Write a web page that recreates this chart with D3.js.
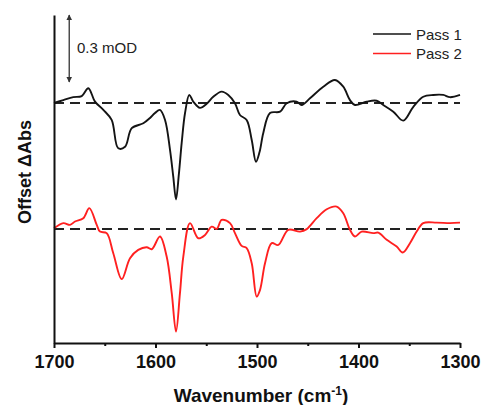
<!DOCTYPE html>
<html>
<head>
<meta charset="utf-8">
<script src="https://cdn.jsdelivr.net/npm/d3@7/dist/d3.min.js"></script>
<style>
  html, body { margin: 0; padding: 0; background: #fff; }
  svg { display: block; font-family: "Liberation Sans", Arial, sans-serif; }
</style>
</head>
<body>
<svg id="chart" width="482" height="405"></svg>
<script>
// ---- Data (wavenumber in cm^-1, ΔAbs in mOD relative to each trace's baseline) ----
const pass1Wavenumber = [1700, 1690.8, 1681.0, 1672.7, 1666.2, 1659.6, 1651.4, 1643.2, 1636.7, 1630.0,
  1623.4, 1612.0, 1605.4, 1600.5, 1595.6, 1590.6, 1585.7, 1582.5, 1579.8, 1577.0, 1574.2, 1570.9, 1566.7,
  1562.8, 1556.2, 1549.6, 1543.1, 1534.8, 1528.3, 1521.7, 1516.8, 1510.2, 1505.2, 1501.0, 1497.5, 1493.8,
  1487.2, 1477.3, 1470.7, 1460.9, 1456.0, 1447.8, 1434.7, 1423.2, 1415.0, 1408.4, 1403.5, 1392.0, 1382.1,
  1375.6, 1365.7, 1355.9, 1346.0, 1336.2, 1326.3, 1316.5, 1309.9, 1300.0];
const pass1Values = [0.000, 0.013, 0.026, 0.031, 0.066, 0.006, -0.031, -0.076, -0.203, -0.196,
  -0.113, -0.091, -0.067, -0.045, -0.031, -0.076, -0.210, -0.330, -0.432, -0.320, -0.179, -0.045, 0.036,
  0.006, -0.022, -0.004, 0.028, 0.051, 0.036, -0.001, -0.054, -0.076, -0.166, -0.263, -0.220, -0.134,
  -0.045, -0.039, -0.001, 0.006, -0.009, 0.021, 0.073, 0.103, 0.073, 0.013, -0.009, 0.006, 0.010,
  -0.009, -0.039, -0.079, -0.017, 0.028, 0.036, 0.036, 0.026, 0.036];

const pass2Wavenumber = [1700, 1690.8, 1684.2, 1679.3, 1671.1, 1665.2, 1657.9, 1654.7, 1648.1, 1641.6,
  1633.3, 1625.1, 1617.0, 1608.7, 1603.7, 1595.6, 1589.0, 1584.0, 1579.8, 1575.9, 1572.6, 1566.0, 1557.8,
  1551.2, 1544.6, 1539.7, 1534.8, 1526.6, 1521.7, 1515.1, 1510.2, 1505.2, 1500.3, 1497.0, 1492.1, 1485.5,
  1479.0, 1469.2, 1457.6, 1451.0, 1441.2, 1431.3, 1421.5, 1415.0, 1408.4, 1403.5, 1396.9, 1385.5, 1380.5,
  1372.2, 1362.4, 1356.5, 1349.3, 1342.7, 1336.2, 1323.0, 1309.9, 1300.0];
const pass2Values = [0.003, 0.026, 0.018, 0.033, 0.048, 0.093, 0.018, -0.012, -0.019, -0.109,
  -0.225, -0.131, -0.094, -0.082, -0.091, -0.034, -0.124, -0.288, -0.460, -0.288, -0.124, 0.026, -0.042,
  -0.027, 0.010, 0.000, 0.040, 0.026, -0.019, -0.076, -0.086, -0.154, -0.303, -0.273, -0.154, -0.064,
  -0.072, -0.004, -0.012, -0.001, 0.048, 0.088, 0.100, 0.070, -0.004, -0.034, -0.012, -0.019, -0.017,
  -0.049, -0.079, -0.106, -0.064, -0.012, 0.026, 0.028, 0.026, 0.028];

const seriesNames = ["Pass 1", "Pass 2"];
const seriesOffsets = [0, -0.564];           // mOD offsets of each trace
const seriesColors = ["#141414", "#ff2020"];
const xDomain = [1700, 1300];
const yDomain = [-1.075, 0.394];             // mOD
const majorTicks = [1700, 1600, 1500, 1400, 1300];
const minorTicks = [1650, 1550, 1450, 1350];
const scaleBarValues = [0.394, 0.094];       // 0.3 mOD
const scaleBarLabel = "0.3 mOD";
const scaleBarWavenumber = 1685;

// ---- Layout ----
const svg = d3.select("#chart");
const mLeft = 54, mRight = 460, mTop = 15, mBottom = 343;

const x = d3.scaleLinear().domain(xDomain).range([mLeft, mRight]);
const y = d3.scaleLinear().domain(yDomain).range([mBottom, mTop]);

const series = [
  { name: seriesNames[0], wn: pass1Wavenumber, v: pass1Values, off: seriesOffsets[0], color: seriesColors[0] },
  { name: seriesNames[1], wn: pass2Wavenumber, v: pass2Values, off: seriesOffsets[1], color: seriesColors[1] }
];

// dashed baselines
series.forEach(s => {
  svg.append("line")
    .attr("x1", x(xDomain[0])).attr("x2", x(xDomain[1]))
    .attr("y1", y(s.off)).attr("y2", y(s.off))
    .attr("stroke", "#222").attr("stroke-width", 2)
    .attr("stroke-dasharray", "10,6");
});

// traces
const line = d3.line()
  .x(d => x(d[0]))
  .y(d => y(d[1]))
  .curve(d3.curveCatmullRom.alpha(0.5));

series.forEach(s => {
  const pts = s.wn.map((w, i) => [w, s.v[i] + s.off]).sort((a, b) => b[0] - a[0]);
  svg.append("path")
    .datum(pts)
    .attr("d", line)
    .attr("fill", "none")
    .attr("stroke", s.color)
    .attr("stroke-width", 1.9)
    .attr("stroke-linejoin", "round");
});

// axes
const xAxis = d3.axisBottom(x).tickValues(majorTicks).tickFormat(d3.format("d")).tickSize(5).tickSizeOuter(0);
const gx = svg.append("g").attr("transform", `translate(0,${mBottom})`).call(xAxis);
gx.select(".domain").attr("stroke", "#111").attr("stroke-width", 2);
gx.selectAll(".tick line").attr("stroke", "#111").attr("stroke-width", 2);
gx.selectAll(".tick text")
  .attr("font-family", "Liberation Sans, Arial, sans-serif")
  .attr("font-size", 18).attr("font-weight", "bold").attr("fill", "#111")
  .attr("dy", "0.95em");

const xMinor = d3.axisBottom(x).tickValues(minorTicks).tickFormat("").tickSize(3).tickSizeOuter(0);
const gxm = svg.append("g").attr("transform", `translate(0,${mBottom})`).call(xMinor);
gxm.select(".domain").remove();
gxm.selectAll(".tick line").attr("stroke", "#111").attr("stroke-width", 2);

// left axis line (no ticks)
const yAxis = d3.axisLeft(y).tickValues([]).tickSizeOuter(0);
const gy = svg.append("g").attr("transform", `translate(${mLeft},0)`).call(yAxis);
gy.select(".domain").attr("stroke", "#111").attr("stroke-width", 2);

// axis titles
const xt = svg.append("text")
  .attr("x", (mLeft + mRight) / 2 + 4).attr("y", 402)
  .attr("text-anchor", "middle")
  .attr("font-size", 19).attr("font-weight", "bold").attr("fill", "#111");
xt.append("tspan").text("Wavenumber (cm");
xt.append("tspan").attr("font-size", 12).attr("dy", -7).text("-1");
xt.append("tspan").attr("dy", 7).text(")");

svg.append("text")
  .attr("transform", `translate(31,172) rotate(-90)`)
  .attr("text-anchor", "middle")
  .attr("font-size", 18).attr("font-weight", "bold").attr("fill", "#111")
  .text("Offset \u0394Abs");

// scale bar (double arrow)
const defs = svg.append("defs");
defs.append("marker").attr("id", "arr").attr("viewBox", "0 0 10 10")
  .attr("refX", 9).attr("refY", 5).attr("markerWidth", 6).attr("markerHeight", 7)
  .attr("markerUnits", "userSpaceOnUse")
  .attr("orient", "auto-start-reverse")
  .append("path").attr("d", "M0,0 L10,5 L0,10 z").attr("fill", "#333");

svg.append("line")
  .attr("x1", x(scaleBarWavenumber)).attr("x2", x(scaleBarWavenumber))
  .attr("y1", y(scaleBarValues[0])).attr("y2", y(scaleBarValues[1]))
  .attr("stroke", "#333").attr("stroke-width", 1.3)
  .attr("marker-start", "url(#arr)").attr("marker-end", "url(#arr)");

svg.append("text")
  .attr("x", 77).attr("y", 52.5)
  .attr("font-size", 15).attr("fill", "#222")
  .text(scaleBarLabel);

// legend
series.forEach((s, i) => {
  const ly = 34 + i * 19.5;
  svg.append("line").attr("x1", 373).attr("x2", 411).attr("y1", ly).attr("y2", ly)
    .attr("stroke", s.color).attr("stroke-width", 1.7);
  svg.append("text").attr("x", 416).attr("y", ly + 5.5)
    .attr("font-size", 15).attr("fill", "#222").text(s.name);
});
</script>
</body>
</html>
